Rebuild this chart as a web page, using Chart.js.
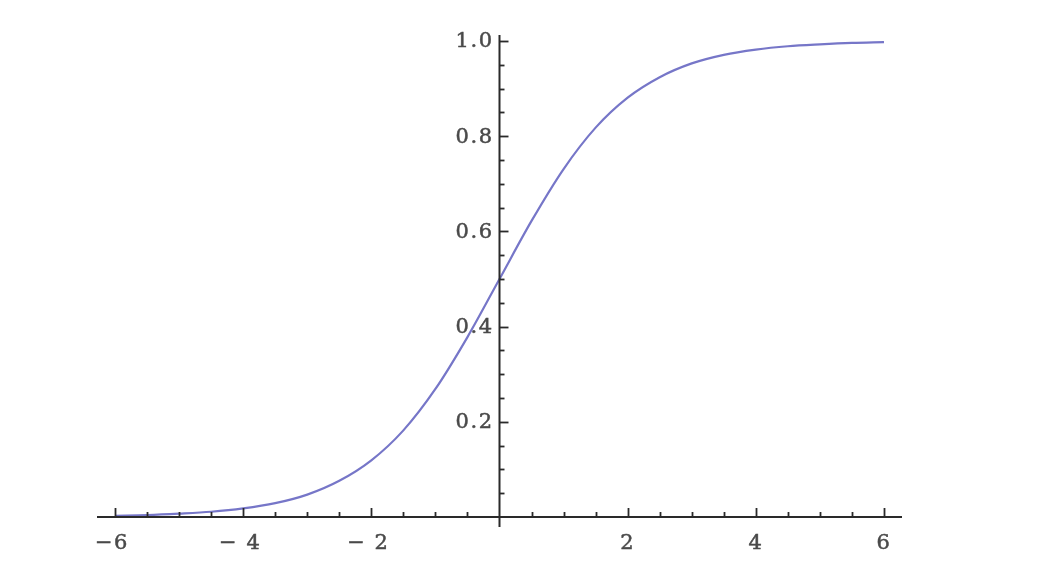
<!DOCTYPE html>
<html>
<head>
<meta charset="utf-8">
<script src="https://cdn.jsdelivr.net/npm/chart.js@4/dist/chart.umd.min.js"></script>
<style>
html,body{margin:0;padding:0;background:#fff;}
#wrap{width:1042px;height:579px;position:relative;}
</style>
</head>
<body>
<div id="wrap"><canvas id="c" width="1042" height="579"></canvas></div>
<script>
// Values
const xValues = [-6,-5.5,-5,-4.5,-4,-3.5,-3,-2.5,-2,-1.5,-1,-0.5,0,0.5,1,1.5,2,2.5,3,3.5,4,4.5,5,5.5,6];
const yValues = [0.0025,0.004,0.007,0.011,0.018,0.029,0.047,0.076,0.119,0.182,0.269,0.378,0.5,0.622,0.731,0.818,0.881,0.924,0.953,0.971,0.982,0.989,0.993,0.996,0.9975];
const xMajorTicks = [-6,-4,-2,2,4,6];
const xTickLabels = ["\u22126","\u2212 4","\u2212 2","2","4","6"];
const xMinorStep = 0.5;
const yMajorTicks = [0.2,0.4,0.6,0.8,1.0];
const yTickLabels = ["0.2","0.4","0.6","0.8","1.0"];
const yMinorStep = 0.05;

const axisPlugin = {
  id: 'centerAxes',
  afterDatasetsDraw(chart) {
    const ctx = chart.ctx;
    const xs = chart.scales.x, ys = chart.scales.y;
    const ca = chart.chartArea;
    const x0 = xs.getPixelForValue(0), y0 = ys.getPixelForValue(0);
    ctx.save();
    ctx.strokeStyle = '#2a2a2a';
    ctx.lineWidth = 2;
    ctx.beginPath(); ctx.moveTo(ca.left, y0); ctx.lineTo(ca.right, y0); ctx.stroke();
    ctx.beginPath(); ctx.moveTo(x0, ca.top); ctx.lineTo(x0, ca.bottom); ctx.stroke();
    ctx.lineWidth = 1.8;
    for (let i = -12; i <= 12; i++) {
      const v = i * xMinorStep;
      if (v === 0) continue;
      const major = xMajorTicks.includes(v);
      const px = Math.round(xs.getPixelForValue(v)) + 0.5;
      ctx.beginPath(); ctx.moveTo(px, y0); ctx.lineTo(px, y0 - (major ? 9 : 5)); ctx.stroke();
    }
    for (let i = 1; i <= 20; i++) {
      const v = +(i * yMinorStep).toFixed(2);
      const major = yMajorTicks.some(t => Math.abs(t - v) < 1e-9);
      const py = Math.round(ys.getPixelForValue(v)) + 0.5;
      ctx.beginPath(); ctx.moveTo(x0, py); ctx.lineTo(x0 + (major ? 9 : 5), py); ctx.stroke();
    }
    ctx.fillStyle = '#4a4a4a';
    ctx.strokeStyle = '#4a4a4a';
    ctx.lineWidth = 0.5;
    ctx.font = '21px "DejaVu Serif", serif';
    if ('letterSpacing' in ctx) ctx.letterSpacing = '1.5px';
    ctx.textBaseline = 'middle';
    ctx.textAlign = 'center';
    xMajorTicks.forEach((v, i) => {
      const px = xs.getPixelForValue(v) - (v < 0 ? 3 : 0), py = y0 + 27;
      ctx.fillText(xTickLabels[i], px, py);
      ctx.strokeText(xTickLabels[i], px, py);
    });
    ctx.textAlign = 'right';
    yMajorTicks.forEach((v, i) => {
      const px = x0 - 6, py = ys.getPixelForValue(v) + 1;
      ctx.fillText(yTickLabels[i], px, py);
      ctx.strokeText(yTickLabels[i], px, py);
    });
    ctx.restore();
  }
};

new Chart(document.getElementById('c'), {
  type: 'line',
  data: {
    datasets: [{
      data: xValues.map((x, i) => ({x: x, y: yValues[i]})),
      borderColor: 'rgb(118,118,200)',
      borderWidth: 2.2,
      pointRadius: 0,
      fill: false,
      cubicInterpolationMode: 'monotone'
    }]
  },
  options: {
    responsive: false,
    animation: false,
    events: [],
    layout: { padding: { left: 97, right: 140, top: 35, bottom: 52 } },
    plugins: { legend: { display: false }, tooltip: { enabled: false } },
    scales: {
      x: { type: 'linear', min: -6.281, max: 6.281, display: false },
      y: { type: 'linear', min: -0.021, max: 1.0126, display: false }
    }
  },
  plugins: [axisPlugin]
});
</script>
</body>
</html>
